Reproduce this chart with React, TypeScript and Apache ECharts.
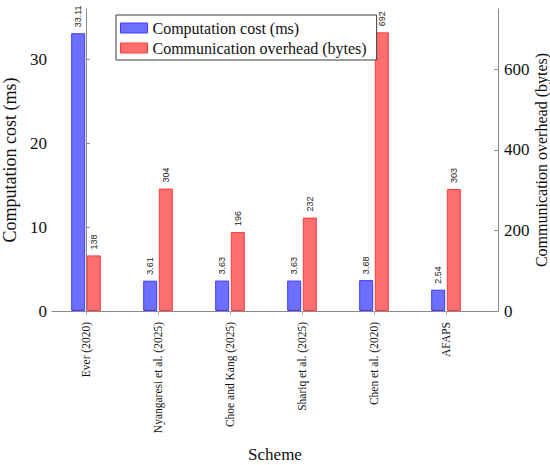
import React, { useEffect, useRef } from "react";
import * as echarts from "echarts";

const categories = [
  "Ever (2020)",
  "Nyangaresi et al. (2025)",
  "Choe and Kang (2025)",
  "Shariq et al. (2025)",
  "Chen et al. (2020)",
  "AFAPS",
];
const computationCost = [33.11, 3.61, 3.63, 3.63, 3.68, 2.54];
const communicationOverhead = [138, 304, 196, 232, 692, 303];
const leftTicks = [0, 10, 20, 30];
const rightTicks = [0, 200, 400, 600];

const SERIF = "'Liberation Serif', 'DejaVu Serif', serif";
const SANS = "'Liberation Sans', 'DejaVu Sans', sans-serif";
const AXIS_GRAY = "#8a8a8a";
const BAR_W = 14;
const BAR_GAP = 0.12;
const BAR_OFF = (BAR_W * (1 + BAR_GAP)) / 2;

export default function App() {
  const ref = useRef<HTMLDivElement>(null);

  useEffect(() => {
    document.body.style.margin = "0";
    if (!ref.current) return;
    const chart = echarts.init(ref.current, undefined, { renderer: "svg" });
    const idx = categories.map((_, i) => i);

    const labelSeries = (name: string, data: number[], yAxisIndex: number, off: number) => ({
      name,
      type: "custom",
      xAxisIndex: 0,
      yAxisIndex,
      clip: false,
      silent: true,
      z: 5,
      data: data.map((v, i) => [i, v]),
      renderItem: (_p: any, api: any) => {
        const pt = api.coord([api.value(0), api.value(1)]);
        return {
          type: "text",
          x: pt[0] + off,
          y: pt[1] - 6,
          rotation: Math.PI / 2,
          style: {
            text: String(api.value(1)),
            fontFamily: SANS,
            fontSize: 9,
            fill: "#222",
            align: "left",
            verticalAlign: "middle",
          },
        };
      },
    });

    chart.setOption({
      animation: false,
      backgroundColor: "#fff",
      grid: {
        left: 52,
        right: 52,
        top: 9,
        bottom: 154,
        containLabel: false,
        outerBoundsMode: "none",
      },
      legend: {
        orient: "vertical",
        left: 116,
        top: 15,
        padding: [5, 10, 4, 4],
        itemGap: 4,
        itemWidth: 27,
        itemHeight: 10,
        icon: "rect",
        borderColor: "#3a3a3a",
        borderWidth: 1,
        backgroundColor: "#fff",
        textStyle: { fontFamily: SERIF, fontSize: 16, lineHeight: 16, color: "#111" },
        data: [
          {
            name: "Computation cost (ms)",
            itemStyle: { color: "#6e6eff", borderColor: "#3c3cff", borderWidth: 1 },
          },
          {
            name: "Communication overhead (bytes)",
            itemStyle: { color: "#ff6e6e", borderColor: "#ff3c3c", borderWidth: 1 },
          },
        ],
      },
      xAxis: {
        type: "value",
        min: -0.4722,
        max: 5.7222,
        name: "Scheme",
        nameLocation: "middle",
        nameGap: 135,
        nameTextStyle: { fontFamily: SERIF, fontSize: 17, color: "#111" },
        axisLine: { show: true, onZero: false, lineStyle: { color: AXIS_GRAY, width: 1 } },
        axisTick: {
          show: true,
          customValues: idx,
          length: 4,
          lineStyle: { color: "#b0b0b0" },
        },
        axisLabel: {
          customValues: idx,
          rotate: 90,
          margin: 11,
          fontFamily: SERIF,
          fontSize: 11.5,
          color: "#111",
          formatter: (v: number) => categories[Math.round(v)] ?? "",
        },
        splitLine: { show: false },
      },
      yAxis: [
        {
          type: "value",
          position: "left",
          min: 0,
          max: 36,
          name: "Computation cost (ms)",
          nameLocation: "middle",
          nameGap: 32,
          nameTextStyle: { fontFamily: SERIF, fontSize: 18, color: "#111" },
          axisLine: { show: true, lineStyle: { color: AXIS_GRAY, width: 1 } },
          axisTick: {
            show: true,
            inside: true,
            length: 4,
            customValues: leftTicks,
            lineStyle: { color: AXIS_GRAY },
          },
          axisLabel: {
            customValues: leftTicks,
            margin: 5,
            fontFamily: SERIF,
            fontSize: 17,
            color: "#111",
          },
          splitLine: { show: false },
        },
        {
          type: "value",
          position: "right",
          min: 0,
          max: 750,
          name: "Communication overhead (bytes)",
          nameLocation: "middle",
          nameGap: 35,
          nameMoveOverlap: false,
          nameTextStyle: { fontFamily: SERIF, fontSize: 16, color: "#111" },
          axisLine: { show: true, lineStyle: { color: AXIS_GRAY, width: 1 } },
          axisTick: {
            show: true,
            inside: true,
            length: 4,
            customValues: rightTicks,
            lineStyle: { color: AXIS_GRAY },
          },
          axisLabel: {
            customValues: rightTicks,
            margin: 6,
            fontFamily: SERIF,
            fontSize: 17,
            color: "#111",
          },
          splitLine: { show: false },
        },
      ],
      series: [
        {
          name: "Computation cost (ms)",
          type: "bar",
          xAxisIndex: 0,
          yAxisIndex: 0,
          barWidth: BAR_W,
          barGap: `${BAR_GAP * 100}%`,
          data: computationCost.map((v, i) => [i, v]),
          itemStyle: { color: "#6e6eff", borderColor: "#3c3cff", borderWidth: 1 },
        },
        {
          name: "Communication overhead (bytes)",
          type: "bar",
          xAxisIndex: 0,
          yAxisIndex: 1,
          barWidth: BAR_W,
          barGap: `${BAR_GAP * 100}%`,
          data: communicationOverhead.map((v, i) => [i, v]),
          itemStyle: { color: "#ff6e6e", borderColor: "#ff3c3c", borderWidth: 1 },
        },
        labelSeries("cost-labels", computationCost, 0, -BAR_OFF),
        labelSeries("overhead-labels", communicationOverhead, 1, BAR_OFF),
      ],
    });

    return () => chart.dispose();
  }, []);

  return <div ref={ref} style={{ width: 550, height: 465 }} />;
}
